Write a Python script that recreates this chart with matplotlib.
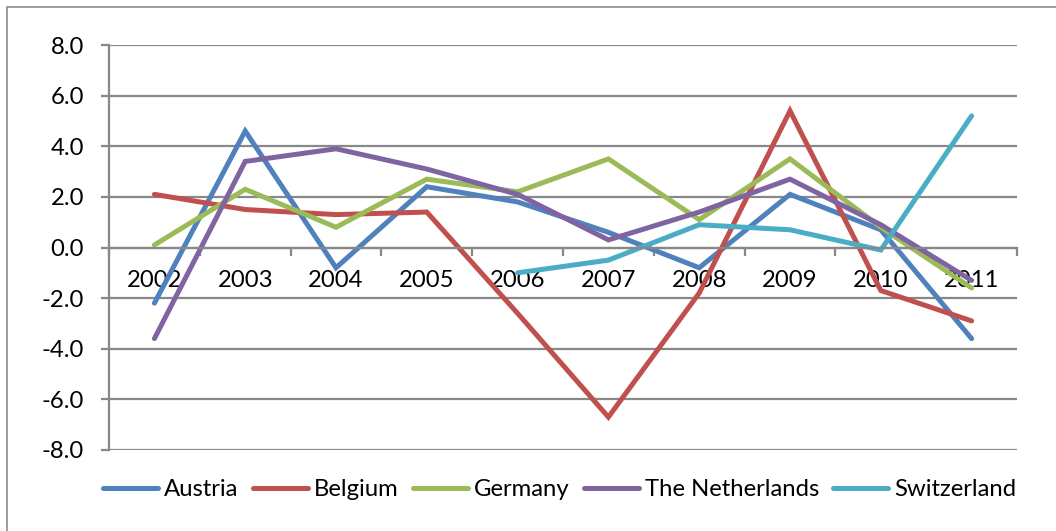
import numpy as np
import matplotlib
matplotlib.use("Agg")
import matplotlib.pyplot as plt
from matplotlib.patches import Rectangle

plt.rcParams['font.family'] = ['Lato', 'DejaVu Sans']
plt.rcParams['axes.unicode_minus'] = False

# data
years = ['2002', '2003', '2004', '2005', '2006', '2007', '2008', '2009', '2010', '2011']
austria = [-2.2, 4.6, -0.8, 2.4, 1.8, 0.6, -0.8, 2.1, 0.7, -3.6]
belgium = [2.1, 1.5, 1.3, 1.4, -2.6, -6.7, -1.8, 5.4, -1.7, -2.9]
germany = [0.1, 2.3, 0.8, 2.7, 2.2, 3.5, 1.1, 3.5, 0.8, -1.6]
netherlands = [-3.6, 3.4, 3.9, 3.1, 2.1, 0.3, 1.4, 2.7, 0.9, -1.3]
switzerland = [np.nan, np.nan, np.nan, np.nan, -1.0, -0.5, 0.9, 0.7, -0.1, 5.2]

series = [('Austria', austria, '#4F81BD'),
          ('Belgium', belgium, '#C0504D'),
          ('Germany', germany, '#9BBB59'),
          ('The Netherlands', netherlands, '#8064A2'),
          ('Switzerland', switzerland, '#4BACC6')]

grid_col = '#888888'
fs = 17.2

fig = plt.figure(figsize=(10.56, 5.31), dpi=100)
fig.patches.append(Rectangle((7/1056, -0.1), 1.2, 1 - 7/531 + 0.1, transform=fig.transFigure,
                             fill=False, edgecolor='#8c8c8c', lw=1.2))
ax = fig.add_axes([109/1056, 1 - 450/531, (1017 - 109)/1056, (450 - 45)/531])

x = np.arange(len(years))
for name, vals, col in series:
    ax.plot(x, vals, color=col, lw=3.6, solid_capstyle='round', solid_joinstyle='miter', label=name)

ax.set_xlim(-0.5, len(years) - 0.5)
ax.set_ylim(-8, 8)
ax.set_yticks(np.arange(-8, 8.1, 2))
ax.set_yticklabels([f'{v:.1f}' for v in np.arange(-8, 8.1, 2)], fontsize=fs)
ax.yaxis.grid(True, color=grid_col, lw=1.6)
ax.set_axisbelow(True)

ax.spines['top'].set_visible(False)
ax.spines['right'].set_visible(False)
ax.spines['left'].set_color(grid_col)
ax.spines['left'].set_linewidth(1.6)
ax.spines['bottom'].set_position(('data', 0))
ax.spines['bottom'].set_color(grid_col)
ax.spines['bottom'].set_linewidth(1.6)

ax.set_xticks(np.arange(-0.5, len(years), 1))
ax.set_xticklabels([])
ax.set_xticks(x, minor=True)
ax.set_xticklabels(years, minor=True, fontsize=fs)
ax.tick_params(axis='x', which='major', direction='out', length=6, width=1.6, color=grid_col)
ax.tick_params(axis='x', which='minor', length=0, pad=16)
ax.tick_params(axis='y', direction='out', length=6, width=1.6, color=grid_col, pad=12)

fig.legend(loc='center', bbox_to_anchor=(560/1056, 1 - 490/531), ncol=5, frameon=False,
           fontsize=fs, handlelength=2.3, handletextpad=0.25, columnspacing=0.6)

fig.savefig('out.png', dpi=100)
